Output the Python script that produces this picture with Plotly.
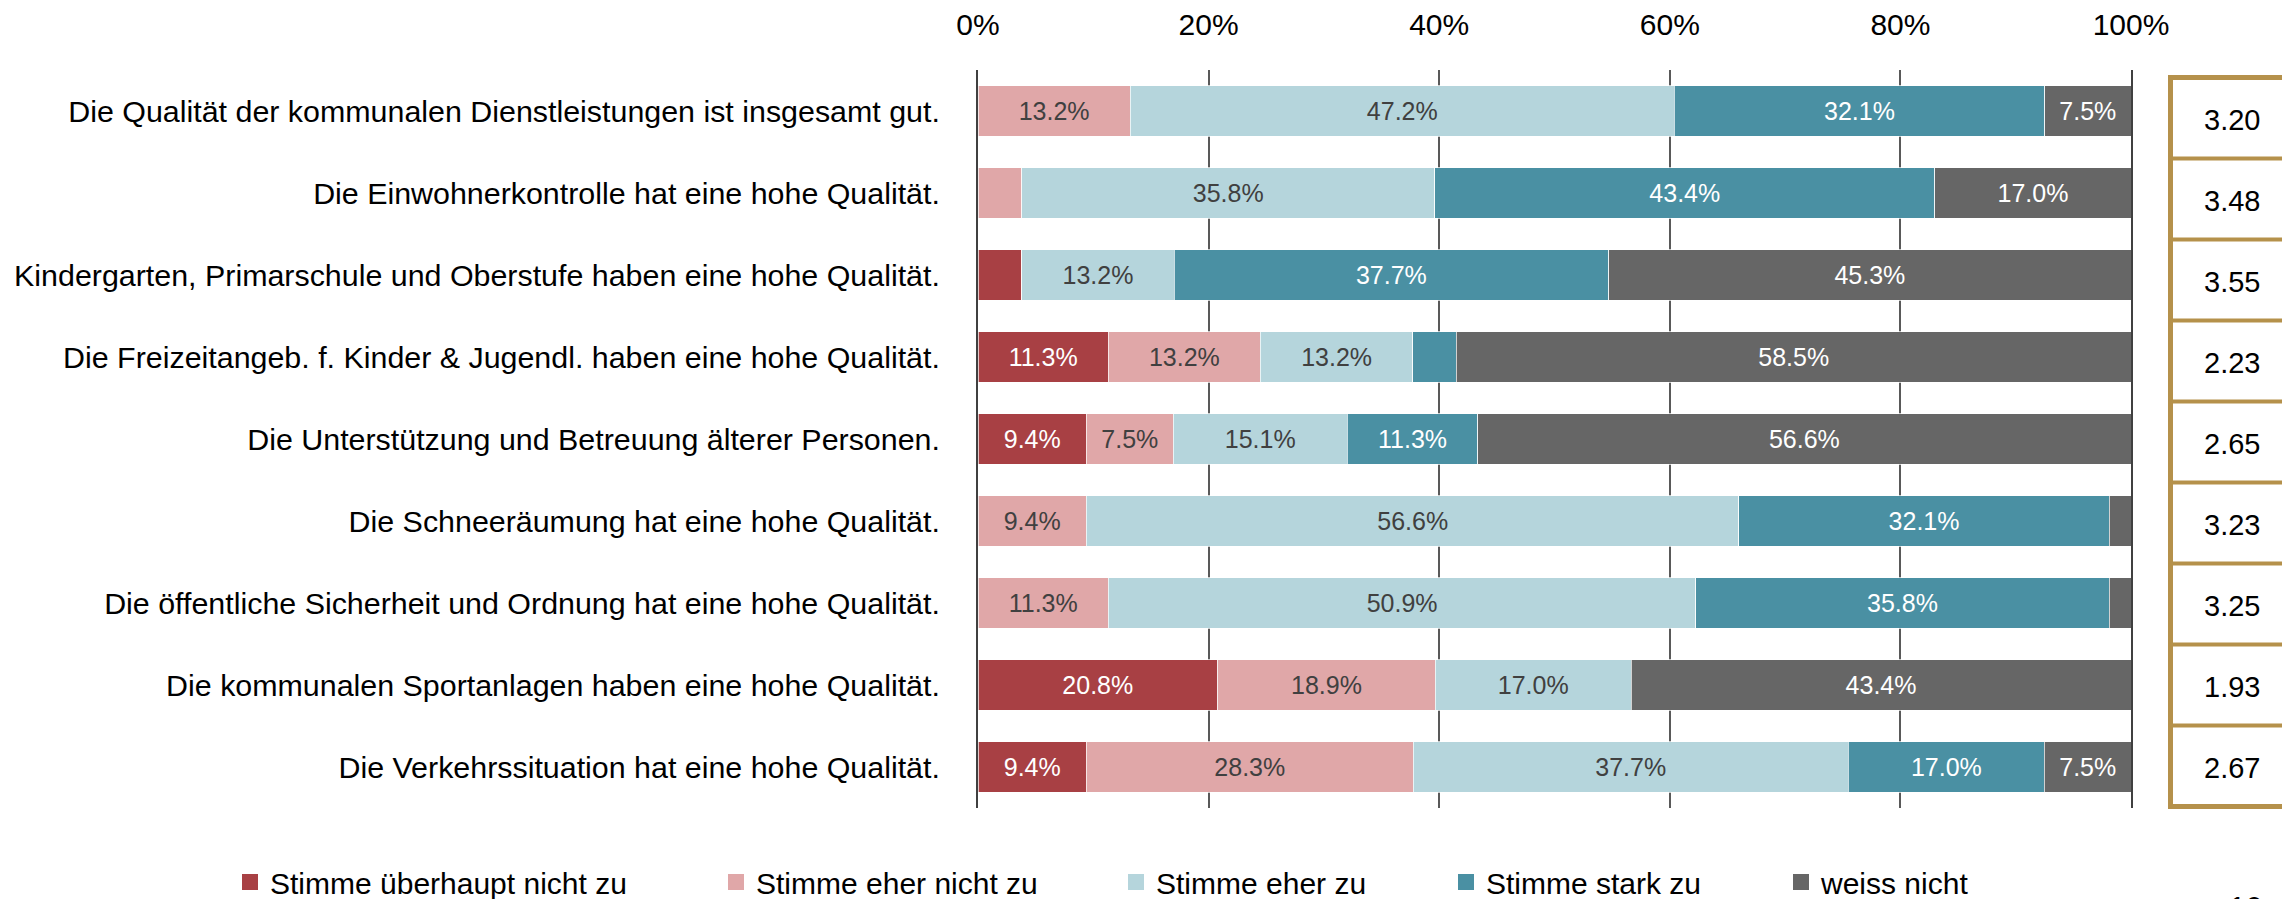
import plotly.graph_objects as go

# ---------------- data ----------------
categories = [
    "Die Qualität der kommunalen Dienstleistungen ist insgesamt gut.",
    "Die Einwohnerkontrolle hat eine hohe Qualität.",
    "Kindergarten, Primarschule und Oberstufe haben eine hohe Qualität.",
    "Die Freizeitangeb. f. Kinder & Jugendl. haben eine hohe Qualität.",
    "Die Unterstützung und Betreuung älterer Personen.",
    "Die Schneeräumung hat eine hohe Qualität.",
    "Die öffentliche Sicherheit und Ordnung hat eine hohe Qualität.",
    "Die kommunalen Sportanlagen haben eine hohe Qualität.",
    "Die Verkehrssituation hat eine hohe Qualität.",
]
series_names = [
    "Stimme überhaupt nicht zu",
    "Stimme eher nicht zu",
    "Stimme eher zu",
    "Stimme stark zu",
    "weiss nicht",
]
ueberhaupt_nicht = [0, 0, 3.8, 11.3, 9.4, 0, 0, 20.8, 9.4]
eher_nicht = [13.2, 3.8, 0, 13.2, 7.5, 9.4, 11.3, 18.9, 28.3]
eher_zu = [47.2, 35.8, 13.2, 13.2, 15.1, 56.6, 50.9, 17.0, 37.7]
stark_zu = [32.1, 43.4, 37.7, 3.8, 11.3, 32.1, 35.8, 0, 17.0]
weiss_nicht = [7.5, 17.0, 45.3, 58.5, 56.6, 1.9, 1.9, 43.4, 7.5]
mittelwerte = [3.20, 3.48, 3.55, 2.23, 2.65, 3.23, 3.25, 1.93, 2.67]
x_ticks = [0, 20, 40, 60, 80, 100]
x_tick_labels = ["0%", "20%", "40%", "60%", "80%", "100%"]
page_number = "10"

series = [ueberhaupt_nicht, eher_nicht, eher_zu, stark_zu, weiss_nicht]

# ---------------- style ----------------
colors = ["#A84044", "#E0A7A8", "#B5D5DC", "#4A90A3", "#666666"]
text_colors = ["white", "#404040", "#404040", "white", "white"]
SANS = "Liberation Sans, Arial, sans-serif"
GOLD = "#B5914B"

W, H = 2282, 899
L, R, T, B = 978, 151, 70, 91
PW = W - L - R
PH = H - T - B


def px_x(px):
    return (px - L) / PW


def px_y(py):
    return (H - B - py) / PH


fig = go.Figure()
legend_ids = ["legend", "legend2", "legend3", "legend4", "legend5"]
for i, (name, vals) in enumerate(zip(series_names, series)):
    fig.add_trace(go.Bar(
        y=categories, x=vals, name=name, orientation="h",
        marker=dict(color=colors[i], line=dict(width=1, color="rgba(255,255,255,0.7)")),
        text=[f"{v:.1f}%" if v >= 5 else "" for v in vals],
        textposition="inside", insidetextanchor="middle", textangle=0,
        textfont=dict(family=SANS, size=25, color=text_colors[i]),
        constraintext="none", showlegend=False, legendgroup=name,
        hoverinfo="skip",
    ))
    fig.add_trace(go.Scatter(
        x=[None], y=[None], mode="markers", name=name,
        marker=dict(symbol="square", size=16, color=colors[i]),
        legend=legend_ids[i], legendgroup=name, showlegend=True,
        hoverinfo="skip",
    ))

fig.update_layout(
    width=W, height=H, template="none", barmode="stack", barnorm="percent",
    bargap=0.38,
    margin=dict(l=L, r=R, t=T, b=B, pad=0, autoexpand=False),
    paper_bgcolor="white", plot_bgcolor="white",
    font=dict(family=SANS, color="black"),
    xaxis=dict(
        side="top", range=[0, 100], tickmode="array", tickvals=x_ticks,
        ticktext=x_tick_labels,
        showgrid=True, gridcolor="#595959", gridwidth=2,
        zeroline=False, showline=False, ticks="", ticklabelstandoff=28,
        tickfont=dict(family=SANS, size=30, color="black"),
        fixedrange=True, automargin=False,
    ),
    yaxis=dict(
        categoryorder="array", categoryarray=categories, autorange="reversed",
        showline=True, linecolor="#404040", linewidth=2, mirror=True,
        ticks="", ticklabelstandoff=30,
        tickfont=dict(family=SANS, size=30.4, color="black"),
        showgrid=False, zeroline=False, fixedrange=True, automargin=False,
    ),
)

leg_common = dict(
    orientation="h", xanchor="left", yanchor="middle", y=px_y(882),
    font=dict(family=SANS, size=30, color="black"),
    bgcolor="rgba(0,0,0,0)", itemwidth=30, borderwidth=0,
)
for lid, sq_left in zip(legend_ids, [242, 728, 1128, 1458, 1793]):
    fig.update_layout({lid: dict(x=px_x(sq_left - 12), **leg_common)})

# box with mean values on the right
shapes = []
row_top = 77.5
row_h = 81
n = len(categories)
x_left = px_x(2170.5)
x_right = px_x(W + 30)
shapes.append(dict(type="line", xref="paper", yref="paper",
                   x0=x_left, x1=x_left, y0=px_y(row_top - 2.5), y1=px_y(row_top + n * row_h + 2.5),
                   line=dict(color=GOLD, width=5)))
for k in range(n + 1):
    yy = px_y(row_top + k * row_h)
    shapes.append(dict(type="line", xref="paper", yref="paper",
                       x0=x_left, x1=x_right, y0=yy, y1=yy,
                       line=dict(color=GOLD, width=5 if k in (0, n) else 4)))
fig.update_layout(shapes=shapes)

annotations = []
for i, (cat, v) in enumerate(zip(categories, mittelwerte)):
    annotations.append(dict(
        xref="paper", yref="paper", x=px_x(2232),
        y=px_y(row_top + (i + 0.5) * row_h + 2),
        text=f"{v:.2f}", showarrow=False, xanchor="center", yanchor="middle",
        font=dict(family=SANS, size=29, color="black"),
    ))
annotations.append(dict(
    xref="paper", yref="paper", x=px_x(2245), y=px_y(888),
    text=page_number, showarrow=False, xanchor="center", yanchor="top",
    font=dict(family=SANS, size=30, color="black"),
))
fig.update_layout(annotations=annotations)

fig.write_html(
    "out.html",
    config={"displayModeBar": False},
    post_script="document.body.style.margin='0';document.body.style.overflow='hidden';",
)
